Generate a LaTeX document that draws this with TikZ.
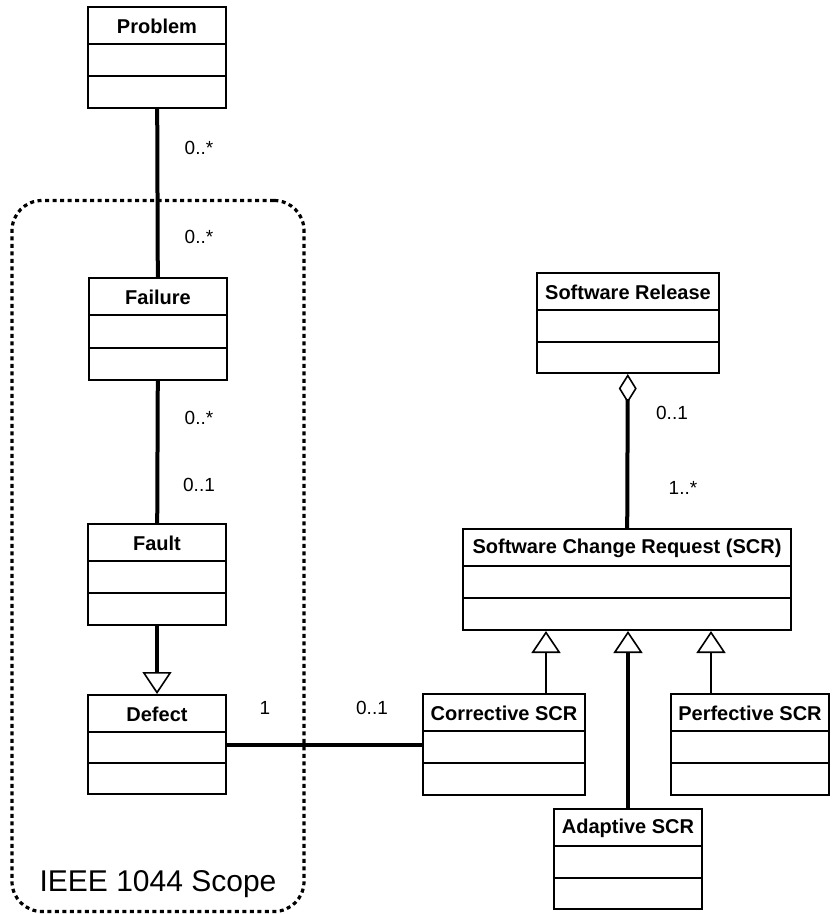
\documentclass[tikz,border=0pt]{standalone}
\usepackage{fontspec}
\setmainfont{Liberation Sans}
\usetikzlibrary{arrows.meta}

% UML class box: #1 name, #2 left, #3 top, #4 right, #5 bottom, #6 title
\newcommand\umlclass[6]{%
  \node[classbox, minimum width={#4-#2}, minimum height={#5-#3}]
    (#1) at ({(#2+#4)/2},{(#3+#5)/2}) {};
  \node[classtitle] (#1-title) at ({(#2+#4)/2},{#3+19}) {#6};
  \draw[divider] (#2,{#3+37}) -- (#4,{#3+37});
  \draw[divider] (#2,{round((#3+37+#5)/2)}) -- (#4,{round((#3+37+#5)/2)});
}

\begin{document}
\begin{tikzpicture}[x=1pt,y=-1pt,
  classbox/.style={draw, line width=2pt, inner sep=0pt, fill=white},
  divider/.style={line width=2pt},
  classtitle/.style={font=\fontsize{20}{24}\selectfont\bfseries, inner sep=0pt},
  mult/.style={font=\fontsize{19}{22}\selectfont, inner sep=0pt},
  assoc/.style={line width=4pt},
  gen/.style={-{Triangle[open,width=29pt,length=22pt,line width=1.6pt]}},
  aggr/.style={{Diamond[open,width=18pt,length=29pt,line width=1.6pt]}-},
  scopebox/.style={draw, line width=3.2pt, dash pattern=on 4pt off 3.5pt,
    rounded corners=30pt, inner sep=0pt}
]
\useasboundingbox (0,0) rectangle (833,914);

% scope frame around the IEEE 1044 classes
\node[scopebox, minimum width=292, minimum height=711] (scope) at (158,556) {};
\node[font=\fontsize{30}{36}\selectfont, inner sep=0pt] (scopelabel) at (158,884) {IEEE 1044 Scope};

% classes
\umlclass{problem}{88}{7}{226}{108}{Problem}
\umlclass{failure}{89}{278}{227}{380}{Failure}
\umlclass{fault}{88}{524}{226}{625}{Fault}
\umlclass{defect}{88}{695}{226}{794}{Defect}
\umlclass{release}{537}{273}{719}{373}{Software Release}
\umlclass{scr}{463}{529}{791}{630}{Software Change Request (SCR)}
\umlclass{corrective}{423}{694}{585}{795}{Corrective SCR}
\umlclass{perfective}{671}{694}{829}{795}{Perfective SCR}
\umlclass{adaptive}{554}{809}{702}{909}{Adaptive SCR}

% associations
\draw[assoc] (problem) -- (failure);
\draw[assoc] (failure) -- (fault);
\draw[assoc] (defect) -- (corrective);
\draw[assoc, aggr] (release) -- (scr);

% generalisations
\draw[assoc, gen] (fault) -- (defect);
\draw[line width=2.4pt, gen] ([xshift=42pt]corrective.north) -- ([xshift=42pt]corrective.north |- scr.south);
\draw[assoc, gen] (adaptive.north) -- (adaptive.north |- scr.south);
\draw[line width=2.4pt, gen] ([xshift=-39pt]perfective.north) -- ([xshift=-39pt]perfective.north |- scr.south);

% multiplicities
\node[mult] (m1) at (199,148) {0..*};
\node[mult] (m2) at (199,237) {0..*};
\node[mult] (m3) at (199,418) {0..*};
\node[mult] (m4) at (199,485) {0..1};
\node[mult] (m5) at (265,708) {1};
\node[mult] (m6) at (372,708) {0..1};
\node[mult] (m7) at (672,413) {0..1};
\node[mult] (m8) at (683,488) {1..*};
\end{tikzpicture}
\end{document}
